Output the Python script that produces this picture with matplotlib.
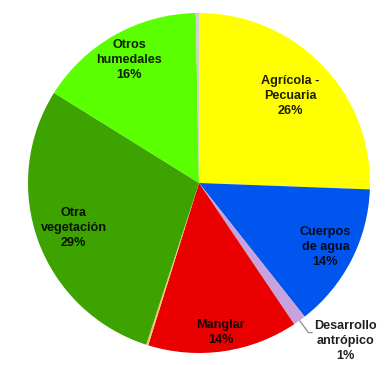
import numpy as np
import matplotlib
matplotlib.use("Agg")
import matplotlib.pyplot as plt

plt.rcParams['font.family'] = ['Liberation Sans', 'DejaVu Sans']

# Land-use shares (percent), clockwise from 12 o'clock
categories = ["Agrícola -\nPecuaria", "Cuerpos\nde agua", "Desarrollo\nantrópico",
              "Manglar", "Otro", "Otra\nvegetación", "Otros\nhumedales", "Sin dato"]
values = [25.6, 13.8, 1.2, 14.2, 0.2, 28.9, 15.8, 0.3]
colors = ["#FFFF00", "#0055EE", "#C8A2DC", "#EA0000", "#F2C46A",
          "#3CA300", "#5AFF00", "#D0D0D0"]
# which wedges get a label, and at what fraction of the radius
label_radius = [0.74, 0.83, None, 0.89, None, 0.78, 0.83, None]

fig = plt.figure(figsize=(3.9, 3.65), dpi=100)
ax = fig.add_axes([28 / 390, 12 / 365, 342 / 390, 340 / 365])

wedges, _ = ax.pie(values, colors=colors, startangle=90, counterclock=False,
                   radius=1.0, wedgeprops=dict(linewidth=0, antialiased=True))
ax.set_aspect('auto')
ax.set_xlim(-1, 1)
ax.set_ylim(-1, 1)
ax.axis('off')

txt_kw = dict(fontsize=9.1, fontweight='bold', color='black', alpha=0.88,
              ha='center', va='center', linespacing=1.32)

total = sum(values)
for w, cat, val, r in zip(wedges, categories, values, label_radius):
    if r is None:
        continue
    ang = np.deg2rad((w.theta1 + w.theta2) / 2)
    ax.text(r * np.cos(ang), r * np.sin(ang),
            f"{cat}\n{val / total * 100:.0f}%", **txt_kw)

# Small slice labelled outside with a leader line
w = wedges[2]
ang = np.deg2rad((w.theta1 + w.theta2) / 2)
x0, y0 = np.cos(ang), np.sin(ang)
x1, y1 = 0.64, -0.88
ax.plot([x0, x1, x1 + 0.025], [y0, y1, y1], color='#8C8C8C', lw=0.9,
        solid_capstyle='butt', clip_on=False)
ax.text(x1 + 0.035, y1 + 0.075,
        f"{categories[2]}\n{values[2] / total * 100:.0f}%",
        fontsize=9.1, fontweight='bold', color='black', alpha=0.88,
        ha='left', va='top', multialignment='center', linespacing=1.32)

fig.savefig("out.png", dpi=100)
